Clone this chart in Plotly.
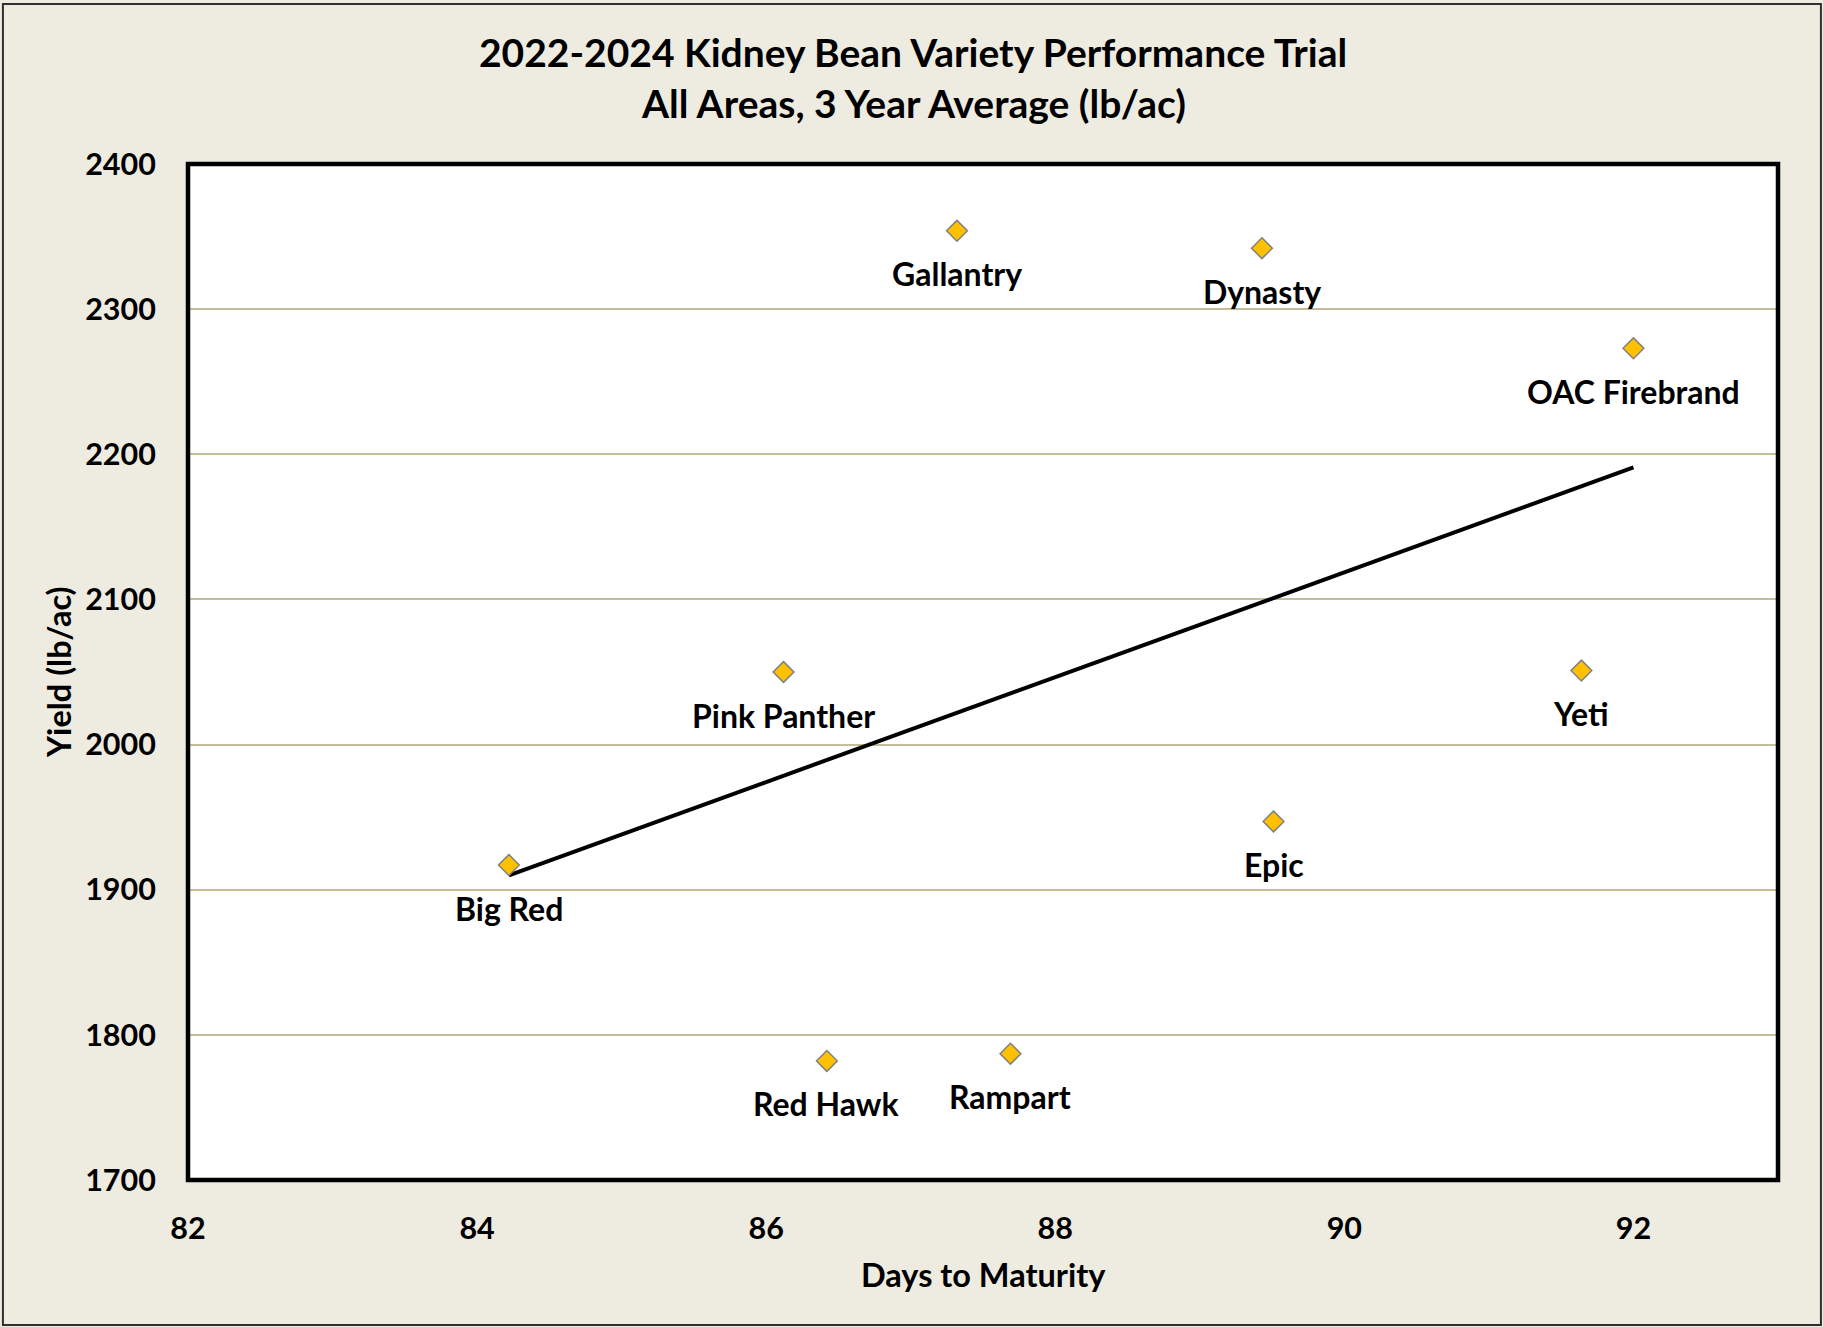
import numpy as np
import plotly.graph_objects as go

varieties = ["Gallantry", "Dynasty", "OAC Firebrand", "Pink Panther", "Yeti",
             "Epic", "Big Red", "Red Hawk", "Rampart"]
days_to_maturity = [87.32, 89.43, 92.0, 86.12, 91.64, 89.51, 84.22, 86.42, 87.69]
yield_lb_ac = [2354, 2342, 2273, 2050, 2051, 1947, 1917, 1782, 1787]

x_ticks = [82, 84, 86, 88, 90, 92]
y_ticks = [1700, 1800, 1900, 2000, 2100, 2200, 2300, 2400]

title_lines = ["2022-2024 Kidney Bean Variety Performance Trial",
               "All Areas, 3 Year Average (lb/ac)"]
x_title = "Days to Maturity"
y_title = "Yield (lb/ac)"

FONT = "Lato, 'Open Sans', sans-serif"

# linear trendline (least squares)
slope, intercept = np.polyfit(days_to_maturity, yield_lb_ac, 1)
tx = [min(days_to_maturity), max(days_to_maturity)]
ty = [slope * v + intercept for v in tx]

fig = go.Figure()
fig.add_trace(go.Scatter(x=tx, y=ty, mode="lines",
                         line=dict(color="black", width=4),
                         hoverinfo="skip", showlegend=False))
fig.add_trace(go.Scatter(x=days_to_maturity, y=yield_lb_ac, mode="markers",
                         marker=dict(symbol="diamond", size=16, color="#FFC000",
                                     line=dict(color="#808080", width=1.5)),
                         text=varieties, showlegend=False))

annotations = []
for name, xv, yv in zip(varieties, days_to_maturity, yield_lb_ac):
    annotations.append(dict(x=xv, y=yv, xref="x", yref="y", text=name,
                            showarrow=False, yshift=-43,
                            font=dict(family=FONT, size=32, color="black", weight="bold")))

annotations += [
    dict(x=0.4560, y=1.110, xref="paper", yref="paper", text=title_lines[0],
         showarrow=False, xanchor="center", yanchor="middle",
         font=dict(family=FONT, size=39, color="black", weight="bold")),
    dict(x=0.4560, y=1.060, xref="paper", yref="paper", text=title_lines[1],
         showarrow=False, xanchor="center", yanchor="middle",
         font=dict(family=FONT, size=39, color="black", weight="bold")),
    dict(x=0.5, y=-0.0935, xref="paper", yref="paper", text=x_title,
         showarrow=False, xanchor="center", yanchor="middle",
         font=dict(family=FONT, size=32.5, color="black", weight="bold")),
    dict(x=-0.0818, y=0.5, xref="paper", yref="paper", text=y_title,
         showarrow=False, xanchor="center", yanchor="middle", textangle=-90,
         font=dict(family=FONT, size=32.5, color="black", weight="bold")),
]

shapes = [
    # plot area border
    dict(type="rect", xref="paper", yref="paper", x0=0, y0=0, x1=1, y1=1,
         line=dict(color="black", width=4.5), layer="above"),
    # outer chart border
    dict(type="rect", xref="paper", yref="paper", x0=-0.1164, y0=-0.1427,
         x1=1.0270, y1=1.1575, line=dict(color="#303030", width=2), layer="above"),
]

fig.update_layout(
    width=1823, height=1327,
    margin=dict(l=188, r=45, t=164, b=147),
    paper_bgcolor="#EEECE1",
    plot_bgcolor="white",
    font=dict(family=FONT, size=30.5, color="black", weight="bold"),
    annotations=annotations,
    shapes=shapes,
    showlegend=False,
)
fig.update_xaxes(range=[82, 93], tickvals=x_ticks, ticktext=[str(v) for v in x_ticks],
                 showgrid=False, zeroline=False, showline=False,
                 ticks="outside", ticklen=0, ticklabelstandoff=21,
                 tickfont=dict(family=FONT, size=30.5, color="black", weight="bold"))
fig.update_yaxes(range=[1700, 2400], tickvals=y_ticks, ticktext=[str(v) for v in y_ticks],
                 showgrid=True, gridcolor="#C4BD97", gridwidth=1.5,
                 zeroline=False, showline=False,
                 ticks="outside", ticklen=0, ticklabelstandoff=25,
                 tickfont=dict(family=FONT, size=30.5, color="black", weight="bold"))

fig.write_html("out.html", config={"displayModeBar": False},
               post_script="document.body.style.margin='0';document.body.style.background='white';")
